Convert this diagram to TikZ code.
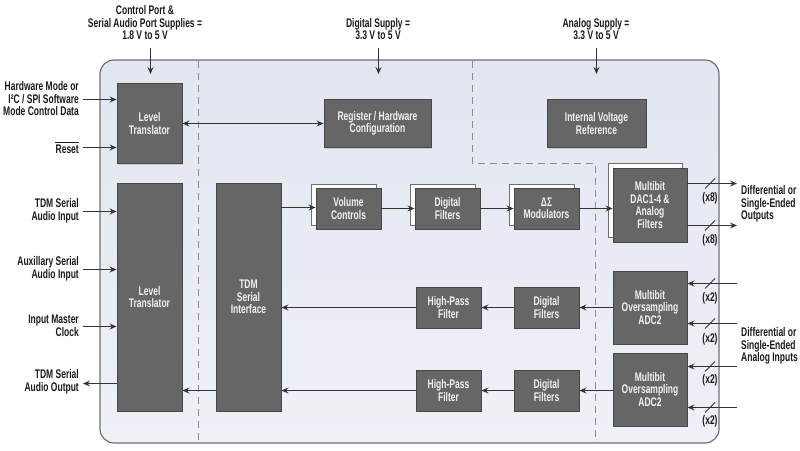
\documentclass[tikz,border=0pt]{standalone}
\usepackage{fontspec}
\setmainfont{Liberation Sans}[FakeStretch=0.68]
\usetikzlibrary{arrows.meta,shadows}
\definecolor{boxfill}{HTML}{666666}
\definecolor{boxline}{HTML}{474747}
\definecolor{arr}{HTML}{333333}
\definecolor{dashc}{HTML}{8C8C8C}
\definecolor{frameline}{HTML}{707070}
\definecolor{frtop}{HTML}{E2E6F0}
\definecolor{frbot}{HTML}{EFF1F7}
\tikzset{
  every node/.style={font=\fontsize{12.5}{12.5}\selectfont\bfseries},
  blk/.style={draw=boxline, fill=boxfill, line width=0.9pt, text=white!95!black,
    align=center, inner sep=1pt,
    drop shadow={shadow xshift=1pt, shadow yshift=-1pt, opacity=0.25}},
  backblk/.style={draw=frameline, fill=white, line width=0.9pt},
  lbl/.style={align=right, anchor=east, text=black!90, inner sep=0pt},
  lbll/.style={align=left, anchor=west, text=black!90, inner sep=0pt},
  lblc/.style={align=center, text=black!90, inner sep=0pt},
  conn/.style={draw=arr, line width=1.1pt, -{Stealth[length=7pt,width=6pt,inset=2.5pt]}},
  biconn/.style={draw=arr, line width=1.1pt, {Stealth[length=7pt,width=6pt,inset=2.5pt]}-{Stealth[length=7pt,width=6pt,inset=2.5pt]}},
  divider/.style={draw=dashc, line width=0.9pt, dash pattern=on 7pt off 5pt},
  busmark/.style={draw=arr, line width=1pt},
}
\begin{document}
\begin{tikzpicture}[x=1pt,y=-1pt]
\useasboundingbox (0,0) rectangle (800,450);
% frame
\draw[frameline, line width=1.2pt, rounded corners=14pt, top color=frtop, bottom color=frbot]
  (100,60) rectangle (719,443);
% dashed dividers
\draw[divider] (198,61) -- (198,443);
\draw[divider] (472,61) -- (472,163) -- (595,163) -- (595,443);

% back (stacked) blocks
\draw[backblk] (311,184) rectangle (376,225);
\draw[backblk] (410,184) rectangle (475,225);
\draw[backblk] (509,184) rectangle (574,225);
\draw[backblk] (608,163) rectangle (682,237);

% blocks
\node[blk, minimum width=65pt, minimum height=80pt] (lt1) at (149.5,123.5) {Level\\Translator};
\node[blk, minimum width=107pt, minimum height=48pt] (reg) at (377.5,123.5) {Register / Hardware\\Configuration};
\node[blk, minimum width=99pt, minimum height=48pt] (ivr) at (596.5,123.5) {Internal Voltage\\Reference};
\node[blk, minimum width=65pt, minimum height=228pt] (lt2) at (149.5,297) {Level\\Translator};
\node[blk, minimum width=65pt, minimum height=228pt] (tdm) at (248.5,297) {TDM\\Serial\\Interface};
\node[blk, minimum width=65pt, minimum height=41pt] (vol) at (348.5,208.5) {Volume\\Controls};
\node[blk, minimum width=65pt, minimum height=41pt] (df1) at (447.5,208.5) {Digital\\Filters};
\node[blk, minimum width=65pt, minimum height=41pt] (dsm) at (546.5,208.5) {ΔΣ\\Modulators};
\node[blk, minimum width=65pt, minimum height=41pt] (hpf1) at (448.5,307.5) {High-Pass\\Filter};
\node[blk, minimum width=65pt, minimum height=41pt] (df2) at (546.5,307.5) {Digital\\Filters};
\node[blk, minimum width=65pt, minimum height=41pt] (hpf2) at (448.5,390.5) {High-Pass\\Filter};
\node[blk, minimum width=65pt, minimum height=41pt] (df3) at (546.5,390.5) {Digital\\Filters};
\node[blk, minimum width=74pt, minimum height=74pt] (dac) at (650,205) {Multibit\\DAC1-4 \&\\Analog\\Filters};
\node[blk, minimum width=74pt, minimum height=73pt] (adc1) at (650,307.5) {Multibit\\Oversampling\\ADC2};
\node[blk, minimum width=74pt, minimum height=73pt] (adc2) at (650,389.5) {Multibit\\Oversampling\\ADC2};

% supply labels
\node[lblc] (sup1) at (145,23) {Control Port \&\\Serial Audio Port Supplies =\\1.8 V to 5 V};
\node[lblc] (sup2) at (378,29) {Digital Supply =\\3.3 V to 5 V};
\node[lblc] (sup3) at (596,29) {Analog Supply =\\3.3 V to 5 V};
\coordinate (s1a) at (150.5,48); \coordinate (s1b) at (150.5,74);
\coordinate (s2a) at (378.5,48); \coordinate (s2b) at (378.5,74);
\coordinate (s3a) at (596.5,48); \coordinate (s3b) at (596.5,74);
\draw[conn] (s1a) -- (s1b);
\draw[conn] (s2a) -- (s2b);
\draw[conn] (s3a) -- (s3b);

% left labels
\node[lbl] (lhw) at (79,99) {Hardware Mode or\\I²C / SPI Software\\Mode Control Data};
\node[lbl] (lrs) at (79,149) {Reset};
\draw[black!90, line width=0.9pt] ([yshift=1.5pt]lrs.north west) -- ([yshift=1.5pt]lrs.north east);
\node[lbl] (ltin) at (79,211) {TDM Serial\\Audio Input};
\node[lbl] (laux) at (79,269) {Auxillary Serial\\Audio Input};
\node[lbl] (lmc) at (79,326) {Input Master\\Clock};
\node[lbl] (ltout) at (79,382) {TDM Serial\\Audio Output};
\coordinate (hw) at (83,99.5);
\coordinate (rs) at (83,147.5);
\coordinate (tin) at (83,211.5);
\coordinate (aux) at (83,269.5);
\coordinate (mc) at (83,326.5);
\coordinate (tout) at (83,383.5);
\draw[conn] (hw) -- (hw -| lt1.west);
\draw[conn] (rs) -- (rs -| lt1.west);
\draw[conn] (tin) -- (tin -| lt2.west);
\draw[conn] (aux) -- (aux -| lt2.west);
\draw[conn] (mc) -- (mc -| lt2.west);
\draw[conn] (tout -| lt2.west) -- (tout);

% internal connections
\draw[biconn] (lt1.east) -- (reg.west);
\coordinate (tdmo) at (281,207.5);
\draw[conn] (tdm.east |- tdmo) -- (tdmo -| vol.west);
\draw[conn] (vol.east) -- (df1.west);
\draw[conn] (df1.east) -- (dsm.west);
\draw[conn] (dsm.east) -- (dsm.east -| dac.west);
\draw[conn] (adc1.west |- df2.east) -- (df2.east);
\draw[conn] (df2.west) -- (hpf1.east);
\draw[conn] (hpf1.west) -- (hpf1.west -| tdm.east);
\draw[conn] (adc2.west |- df3.east) -- (df3.east);
\draw[conn] (df3.west) -- (hpf2.east);
\draw[conn] (hpf2.west) -- (hpf2.west -| tdm.east);
\coordinate (tdml) at (216,390.5);
\draw[conn] (tdml) -- (tdml -| lt2.east);

% DAC outputs
\coordinate (o1) at (737,183.5);
\coordinate (o2) at (737,225.5);
\draw[conn] (o1 -| dac.east) -- (o1);
\draw[conn] (o2 -| dac.east) -- (o2);
\draw[busmark] (705,188.5) -- (715,178.5);
\draw[busmark] (705,230.5) -- (715,220.5);
\node[lblc] (x8a) at (710,198) {(x8)};
\node[lblc] (x8b) at (710,240) {(x8)};
\node[lbll] (outs) at (741,204) {Differential or\\Single-Ended\\Outputs};

% ADC inputs
\coordinate (i1) at (737,283.5);
\coordinate (i2) at (737,323.5);
\coordinate (i3) at (737,366.5);
\coordinate (i4) at (737,407.5);
\draw[conn] (i1) -- (i1 -| adc1.east);
\draw[conn] (i2) -- (i2 -| adc1.east);
\draw[conn] (i3) -- (i3 -| adc2.east);
\draw[conn] (i4) -- (i4 -| adc2.east);
\draw[busmark] (705,288.5) -- (715,278.5);
\draw[busmark] (705,328.5) -- (715,318.5);
\draw[busmark] (705,371.5) -- (715,361.5);
\draw[busmark] (705,412.5) -- (715,402.5);
\node[lblc] (x2a) at (710,298) {(x2)};
\node[lblc] (x2b) at (710,339) {(x2)};
\node[lblc] (x2c) at (710,380) {(x2)};
\node[lblc] (x2d) at (710,421) {(x2)};
\node[lbll] (ins) at (741,346) {Differential or\\Single-Ended\\Analog Inputs};
\end{tikzpicture}
\end{document}
